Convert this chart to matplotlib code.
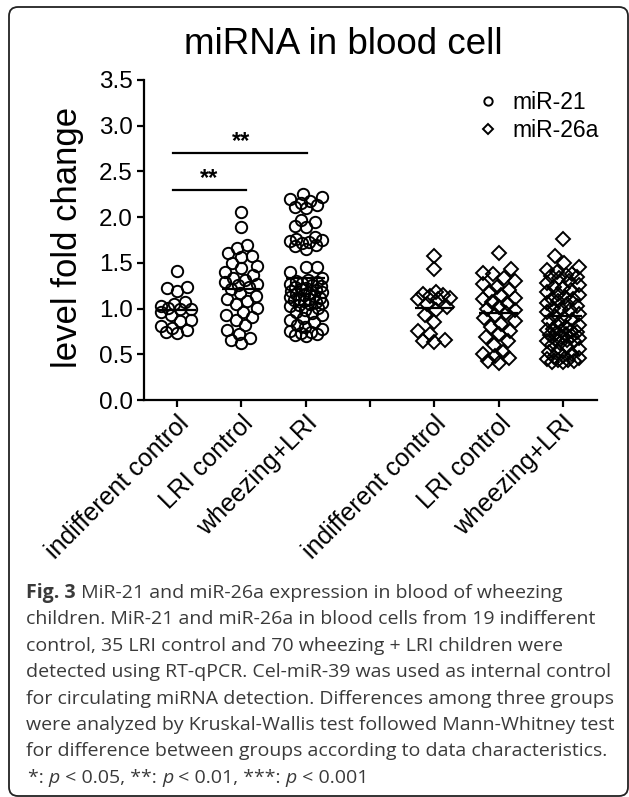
import matplotlib
matplotlib.use('Agg')
import matplotlib.pyplot as plt
import numpy as np
from matplotlib.lines import Line2D
from matplotlib.patches import FancyBboxPatch
from matplotlib.transforms import IdentityTransform

plt.rcParams['font.family'] = ['Liberation Sans', 'DejaVu Sans']

W, H = 629, 797

groups = ['indifferent control', 'LRI control', 'wheezing+LRI']

mir21_indiff = [1.41, 1.24, 1.23, 1.19, 1.07, 1.05, 1.03, 1.01, 1.00, 1.00,
                0.96, 0.93, 0.88, 0.86, 0.81, 0.79, 0.77, 0.74, 0.73]
mir21_lri = [2.06, 1.89, 1.70, 1.66, 1.61, 1.58, 1.56, 1.50, 1.47, 1.44,
             1.40, 1.37, 1.33, 1.31, 1.29, 1.27, 1.26, 1.24, 1.21, 1.17,
             1.14, 1.11, 1.08, 1.05, 1.01, 0.96, 0.93, 0.91, 0.88, 0.82,
             0.77, 0.72, 0.68, 0.66, 0.62]
mir21_wheeze = [2.25, 2.22, 2.20, 2.18, 2.15, 2.13, 2.11, 2.10, 1.97, 1.95,
                1.90, 1.89, 1.78, 1.76, 1.75, 1.74, 1.73, 1.72, 1.70, 1.68,
                1.65, 1.46, 1.45, 1.40, 1.33, 1.31, 1.30, 1.29, 1.28, 1.27,
                1.26, 1.25, 1.24, 1.22, 1.21, 1.20, 1.19, 1.18, 1.17, 1.16,
                1.15, 1.14, 1.13, 1.12, 1.11, 1.10, 1.09, 1.08, 1.07, 1.06,
                1.05, 1.04, 1.03, 1.01, 0.98, 0.96, 0.95, 0.93, 0.90, 0.88,
                0.85, 0.82, 0.80, 0.78, 0.76, 0.74, 0.73, 0.72, 0.71, 0.70]

mir26_indiff = [1.57, 1.43, 1.18, 1.16, 1.15, 1.14, 1.12, 1.11, 1.10, 1.05,
                1.02, 0.98, 0.93, 0.85, 0.76, 0.72, 0.66, 0.65, 0.63]
mir26_lri = [1.61, 1.43, 1.39, 1.38, 1.33, 1.30, 1.27, 1.24, 1.20, 1.18,
             1.15, 1.12, 1.10, 1.07, 1.05, 1.02, 1.00, 0.98, 0.95, 0.93,
             0.90, 0.86, 0.83, 0.80, 0.76, 0.72, 0.69, 0.64, 0.60, 0.53,
             0.50, 0.48, 0.46, 0.43, 0.40]
mir26_wheeze = [1.76, 1.57, 1.50, 1.45, 1.42, 1.40, 1.38, 1.37, 1.36, 1.35,
                1.33, 1.30, 1.28, 1.26, 1.24, 1.22, 1.20, 1.18, 1.16, 1.15,
                1.13, 1.11, 1.10, 1.08, 1.06, 1.05, 1.03, 1.01, 1.00, 0.98,
                0.96, 0.94, 0.92, 0.90, 0.88, 0.86, 0.84, 0.82, 0.80, 0.78,
                0.77, 0.76, 0.75, 0.74, 0.73, 0.72, 0.71, 0.70, 0.69, 0.68,
                0.67, 0.66, 0.65, 0.64, 0.62, 0.60, 0.58, 0.56, 0.54, 0.52,
                0.50, 0.48, 0.46, 0.45, 0.44, 0.43, 0.42, 0.42, 0.44, 0.47]

mir21 = [mir21_indiff, mir21_lri, mir21_wheeze]
mir26 = [mir26_indiff, mir26_lri, mir26_wheeze]
pos21 = [1, 2, 3]
pos26 = [5, 6, 7]

caption = [
    "MiR-21 and miR-26a expression in blood of wheezing",
    "children. MiR-21 and miR-26a in blood cells from 19 indifferent",
    "control, 35 LRI control and 70 wheezing + LRI children were",
    "detected using RT-qPCR. Cel-miR-39 was used as internal control",
    "for circulating miRNA detection. Differences among three groups",
    "were analyzed by Kruskal-Wallis test followed Mann-Whitney test",
    "for difference between groups according to data characteristics.",
]

fig = plt.figure(figsize=(W / 100, H / 100), dpi=100)
ax = fig.add_axes([144 / W, 1 - 400 / H, (597 - 144) / W, (400 - 80) / H])
ax.set_xlim(0.49, 7.53)
ax.set_ylim(0, 3.5)

# pixels per data unit, for the swarm layout
p0 = ax.transData.transform((0, 0))
p1 = ax.transData.transform((1, 1))
sx, sy = p1[0] - p0[0], p1[1] - p0[1]


def swarm_x(vals, center, diam=10.5, half=16.0):
    y = np.asarray(vals) * sy
    offs = np.zeros(len(y))
    cands = np.arange(-half, half + 0.01, 1.0)
    cands = cands[np.argsort(np.abs(cands), kind='stable')]
    px, py = [], []
    for i in np.argsort(y):
        best, best_d, best_c = None, -1, 0.0
        for c in cands:
            if px:
                d = np.min(np.hypot(c - np.array(px), y[i] - np.array(py)))
            else:
                d = np.inf
            if d >= diam:
                best = c
                break
            if d > best_d:
                best_d, best_c = d, c
        if best is None:
            best = best_c
        offs[i] = best
        px.append(best)
        py.append(y[i])
    return center + offs / sx


for vals, c in zip(mir21, pos21):
    ax.plot(swarm_x(vals, c), vals, ls='none', marker='o', ms=8.2,
            mfc='none', mec='black', mew=1.4)
    ax.hlines(np.mean(vals), c - 0.3, c + 0.3, color='black', lw=1.6)
for vals, c in zip(mir26, pos26):
    ax.plot(swarm_x(vals, c, diam=11.0), vals, ls='none', marker='D', ms=7.5,
            mfc='none', mec='black', mew=1.4)
    ax.hlines(np.mean(vals), c - 0.3, c + 0.3, color='black', lw=1.6)

# significance bars
ax.plot([0.94, 3.02], [2.70, 2.70], color='black', lw=1.6)
ax.plot([0.94, 2.07], [2.30, 2.30], color='black', lw=1.6)
ax.text(2.0, 2.70, '**', ha='center', va='bottom', fontsize=17, fontweight='bold')
ax.text(1.5, 2.30, '**', ha='center', va='bottom', fontsize=17, fontweight='bold')

for s in ['top', 'right']:
    ax.spines[s].set_visible(False)
for s in ['left', 'bottom']:
    ax.spines[s].set_linewidth(1.6)
ax.set_yticks(np.arange(0, 3.51, 0.5))
ax.set_yticklabels(['%.1f' % v for v in np.arange(0, 3.51, 0.5)], fontsize=17.5)
ax.set_xticks([1, 2, 3, 4, 5, 6, 7])
ax.set_xticklabels(groups + [''] + groups, fontsize=18, rotation=45,
                   ha='right', rotation_mode='anchor')
ax.tick_params(axis='both', direction='out', length=5, width=1.6, pad=3)

fig.text(343 / W, 1 - 45 / H, 'miRNA in blood cell', ha='center', va='center',
         fontsize=26.5)
fig.text(67 / W, 1 - 237 / H, 'level fold change', ha='center', va='center',
         rotation=90, fontsize=25)

handles = [Line2D([], [], ls='none', marker='o', ms=6, mfc='none', mec='black', mew=1.4),
           Line2D([], [], ls='none', marker='D', ms=5.5, mfc='none', mec='black', mew=1.4)]
fig.legend(handles, ['miR-21', 'miR-26a'], loc='upper left',
           bbox_to_anchor=(456 / W, 1 - 70 / H), frameon=False, fontsize=16.5,
           handlelength=1.0, handletextpad=0.55, labelspacing=0.25)

# caption
renderer = fig.canvas.get_renderer()
cap_kw = dict(family=['Open Sans', 'DejaVu Sans'], fontsize=14.0, color='#3a3a3a',
              va='center', ha='left')


def draw_segments(segs, x0, y0):
    x = x0
    for txt, extra in segs:
        t = fig.text(x / W, 1 - y0 / H, txt, **cap_kw, **extra)
        x += t.get_window_extent(renderer).width


line_y = [593 + 26.4 * i for i in range(8)]
draw_segments([('Fig. 3', {'fontweight': 'bold'}), (' ' + caption[0], {})], 26, line_y[0])
for i, line in enumerate(caption[1:], start=1):
    draw_segments([(line, {})], 26, line_y[i])
draw_segments([('*: ', {}), ('p', {'style': 'italic'}), (' < 0.05, **: ', {}),
               ('p', {'style': 'italic'}), (' < 0.01, ***: ', {}),
               ('p', {'style': 'italic'}), (' < 0.001', {})], 28, line_y[7])

frame = FancyBboxPatch((9, 1), 619, 789, boxstyle='round,pad=0,rounding_size=9',
                       transform=IdentityTransform(), fill=False,
                       edgecolor='#222222', lw=1.3)
fig.patches.append(frame)

fig.savefig('out.png', dpi=100)
